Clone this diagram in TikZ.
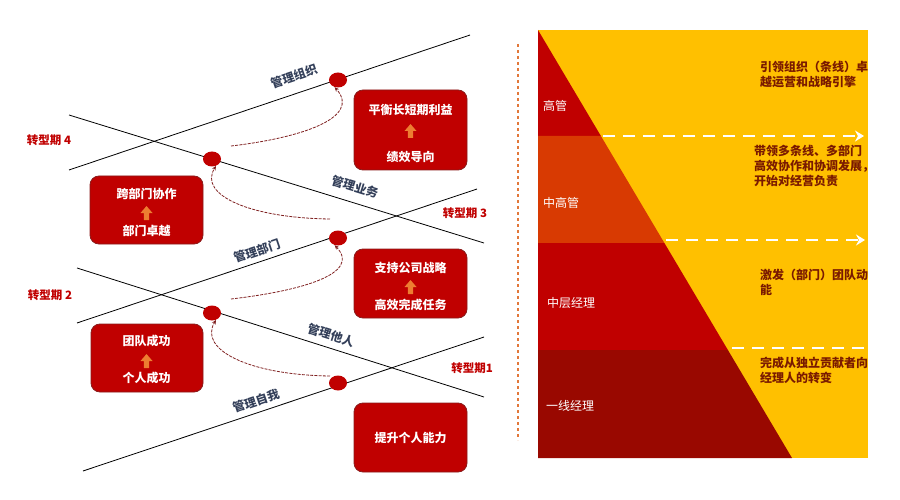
\documentclass[tikz,border=0pt]{standalone}
\usepackage{fontspec}
\setmainfont{Noto Sans CJK SC}
\usetikzlibrary{shapes.geometric,arrows.meta}
\definecolor{boxred}{HTML}{C00000}
\definecolor{boxedge}{HTML}{8A1C1C}
\definecolor{arrowor}{HTML}{ED7D31}
\definecolor{lblgray}{HTML}{34405A}
\definecolor{stagered}{HTML}{C00000}
\definecolor{panelyel}{HTML}{FFC000}
\definecolor{bandor}{HTML}{D83A02}
\definecolor{banddark}{HTML}{990800}
\definecolor{paneltxt}{HTML}{7A1A00}
\definecolor{connred}{HTML}{7F2020}
\definecolor{sepor}{HTML}{E2783A}
\tikzset{
 mline/.style={draw=black, line width=0.8pt},
 dotnode/.style={ellipse, fill=boxred, minimum width=18pt, minimum height=15pt, inner sep=0pt},
 stagebox/.style={draw=boxedge, line width=0.8pt, fill=boxred, rounded corners=9pt, inner sep=0pt},
 boxtxt/.style={text=white, font=\fontsize{12}{14}\selectfont\bfseries},
 mgmtlbl/.style={text=lblgray, font=\fontsize{12}{14}\selectfont\bfseries, inner sep=0pt},
 stagelbl/.style={text=stagered, font=\fontsize{11.5}{14}\selectfont\bfseries, inner sep=0pt},
 conn/.style={draw=connred, line width=0.8pt, dash pattern=on 3pt off 1.2pt, -{Stealth[length=4.5pt,width=4pt]}},
 bandlbl/.style={text=white, anchor=west, inner sep=0pt, font=\fontsize{12}{14}\selectfont},
 paneltext/.style={text=paneltxt, anchor=west, align=left, inner sep=0pt, font=\fontsize{12}{15}\selectfont\bfseries},
 wdash/.style={draw=white, line width=2.6pt, dash pattern=on 12pt off 8pt},
 wtip/.style={-{Stealth[length=9pt,width=11pt,inset=3pt,fill=white]}},
 uparrow/.pic={\fill[arrowor] (-2.6,7) -- (-2.6,0) -- (-6,0) -- (0,-7) -- (6,0) -- (2.6,0) -- (2.6,7) -- cycle;}
}
\begin{document}
\begin{tikzpicture}[x=1pt,y=-1pt]
\useasboundingbox (0,0) rectangle (900,500);

% ---------- left: crossing lines ----------
\coordinate (l1a) at (69,170);  \coordinate (l1b) at (470,35);
\coordinate (l2a) at (69,115);  \coordinate (l2b) at (484,243);
\coordinate (l3a) at (77,323);  \coordinate (l3b) at (477,189);
\coordinate (l4a) at (77,268);  \coordinate (l4b) at (484,397);
\coordinate (l5a) at (83,471);  \coordinate (l5b) at (484,337);
\draw[mline] (l1a) -- (l1b);
\draw[mline] (l2a) -- (l2b);
\draw[mline] (l3a) -- (l3b);
\draw[mline] (l4a) -- (l4b);
\draw[mline] (l5a) -- (l5b);

\node[dotnode] (d1) at (338,80) {};
\node[dotnode] (d2) at (212,159) {};
\node[dotnode] (d3) at (338,238) {};
\node[dotnode] (d4) at (212,313) {};
\node[dotnode] (d5) at (338,383) {};

% line labels
\node[mgmtlbl, rotate=18.6] (m1) at (294,76) {管理组织};
\node[mgmtlbl, rotate=-17.1] (m2) at (355,187) {管理业务};
\node[mgmtlbl, rotate=18.5] (m3) at (257,251) {管理部门};
\node[mgmtlbl, rotate=-17.6] (m4) at (331,335) {管理他人};
\node[mgmtlbl, rotate=18.5] (m5) at (256,401) {管理自我};

% stage labels
\node[stagelbl] (t4) at (49,140) {转型期 4};
\node[stagelbl] (t3) at (465,213) {转型期 3};
\node[stagelbl] (t2) at (50,295) {转型期 2};
\node[stagelbl] (t1) at (472,368) {转型期1};

% boxes
\node[stagebox, minimum width=113pt, minimum height=80pt] (bA) at (410.5,130) {};
\node[boxtxt] (bA1) at (410.5,110) {平衡长短期利益};
\pic at (410.5,131) {uparrow};
\node[boxtxt] (bA2) at (410.5,157) {绩效导向};

\node[stagebox, minimum width=113pt, minimum height=68pt] (bB) at (146.5,210) {};
\node[boxtxt] (bB1) at (146.5,194) {跨部门协作};
\pic at (146.5,213) {uparrow};
\node[boxtxt] (bB2) at (146.5,231) {部门卓越};

\node[stagebox, minimum width=113pt, minimum height=69pt] (bC) at (410.5,283.5) {};
\node[boxtxt] (bC1) at (410.5,268) {支持公司战略};
\pic at (410.5,287) {uparrow};
\node[boxtxt] (bC2) at (410.5,305) {高效完成任务};

\node[stagebox, minimum width=112pt, minimum height=68pt] (bD) at (147,358) {};
\node[boxtxt] (bD1) at (146.5,341) {团队成功};
\pic at (146.5,361) {uparrow};
\node[boxtxt] (bD2) at (146.5,378) {个人成功};

\node[stagebox, minimum width=113pt, minimum height=69pt] (bE) at (410.5,437.5) {};
\node[boxtxt] (bE1) at (410.5,437.5) {提升个人能力};

% dashed curved connectors
\coordinate (s1) at (231,146);
\coordinate (s2) at (330,219);
\coordinate (s3) at (231,299);
\coordinate (s4) at (330,376);
\draw[conn] (s1) .. controls (300,138) and (362,118) .. (d1.245);
\draw[conn] (s2) .. controls (250,218) and (198,195) .. (d2.-60);
\draw[conn] (s3) .. controls (300,291) and (362,274) .. (d3.245);
\draw[conn] (s4) .. controls (250,375) and (198,350) .. (d4.-60);

% separator
\draw[sepor, line width=2.6pt, dash pattern=on 2.6pt off 3.4pt] (518,44) -- (518,440);

% ---------- right: pyramid panel ----------
\fill[panelyel] (538,30) rectangle (868,458);
\fill[boxred] (538,30) -- (538,136) -- (600.9,136) -- cycle;
\fill[bandor] (538,136) -- (600.9,136) -- (664.4,243) -- (538,243) -- cycle;
\fill[boxred] (538,243) -- (664.4,243) -- (727.9,350) -- (538,350) -- cycle;
\fill[banddark] (538,350) -- (727.9,350) -- (792,458) -- (538,458) -- cycle;

\node[bandlbl] (g1) at (543,106) {高管};
\node[bandlbl] (g2) at (543,203) {中高管};
\node[bandlbl] (g3) at (547,303) {中层经理};
\node[bandlbl] (g4) at (546,406) {一线经理};

\coordinate (w1a) at (603,136); \coordinate (w1b) at (864,136);
\coordinate (w2a) at (666,240); \coordinate (w2b) at (865,240);
\coordinate (w3a) at (732,348); \coordinate (w3b) at (868,348);
\draw[wdash, wtip] (w1a) -- (w1b);
\draw[wdash, wtip] (w2a) -- (w2b);
\draw[wdash] (w3a) -- (w3b);

\node[paneltext] (p1) at (760,74.2) {引领组织（条线）卓\\越运营和战略引擎};
\node[paneltext] (p2) at (754,166) {带领多条线、多部门\\高效协作和协调发展，\\开始对经营负责};
\node[paneltext] (p3) at (760,282) {激发（部门）团队动\\能};
\node[paneltext] (p4) at (760,370) {完成从独立贡献者向\\经理人的转变};
\end{tikzpicture}
\end{document}
